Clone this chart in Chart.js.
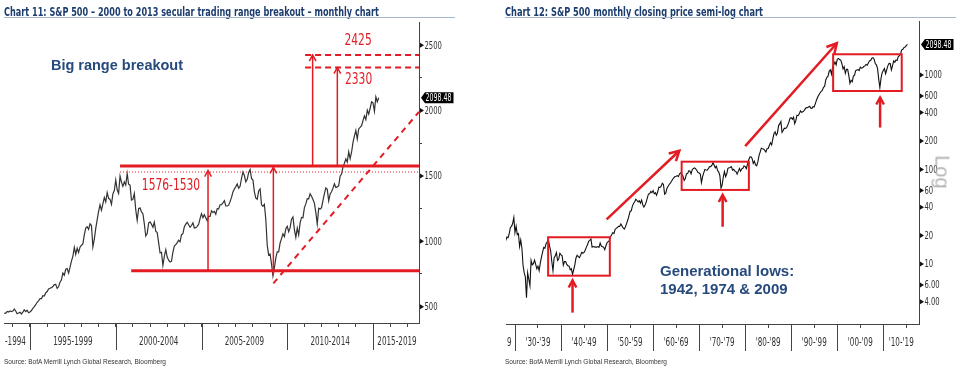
<!DOCTYPE html>
<html>
<head>
<meta charset="utf-8">
<script src="https://cdn.jsdelivr.net/npm/chart.js@4.4.0/dist/chart.umd.min.js"></script>
<style>
html, body { margin: 0; padding: 0; background: #fff; }
body { width: 960px; height: 369px; position: relative; overflow: hidden; }
.panel { position: absolute; top: 0; width: 480px; height: 369px; }
#p1 { left: 0; }
#p2 { left: 480px; }
canvas { position: absolute; left: 0; top: 0; }
.title { position: absolute; top: 6px; font-family: "Liberation Sans Narrow", "DejaVu Sans Condensed", sans-serif; font-weight: bold; font-size: 12px; line-height: 12px; color: #1c3d6e; white-space: nowrap; transform-origin: 0 0; }
.rule { position: absolute; top: 17px; height: 1px; background: #a3b6ca; }
.source { position: absolute; top: 358px; font-family: "Liberation Sans", Arial, sans-serif; font-size: 7px; line-height: 7px; color: #333; white-space: nowrap; transform-origin: 0 0; }
.log { position: absolute; left: 462px; top: 172px; font-family: "Liberation Sans", Arial, sans-serif; font-size: 20px; color: #b3b3b3; transform: translate(-50%, -50%) rotate(90deg); }
</style>
</head>
<body>
<div id="p1" class="panel">
  <canvas id="c1" width="480" height="369"></canvas>
  <div class="title" id="t1" style="left:4px">Chart 11: S&amp;P 500 – 2000 to 2013 secular trading range breakout – monthly chart</div>
  <div class="rule" style="left:4px;width:451px"></div>
  <div class="source" id="s1" style="left:4px">Source: BofA Merrill Lynch Global Research, Bloomberg</div>
</div>
<div id="p2" class="panel">
  <canvas id="c2" width="480" height="369"></canvas>
  <div class="title" id="t2" style="left:25px">Chart 12: S&amp;P 500 monthly closing price semi-log chart</div>
  <div class="rule" style="left:25px;width:451px"></div>
  <div class="source" id="s2" style="left:25px">Source: BofA Merrill Lynch Global Research, Bloomberg</div>
  <div class="log">Log</div>
</div>
<script>
// ---- Chart 11 data: S&P 500 monthly closes, Jun 1993 .. Apr 2015
const leftStart = 1993.5;
const leftValues = [
  450.5, 448.1, 463.6, 458.9, 467.8, 461.8, 466.5,
  481.6, 467.1, 445.8, 451.0, 456.5, 444.3, 458.3, 475.5, 462.7, 472.4, 453.7, 459.3,
  470.4, 487.4, 500.7, 514.7, 533.4, 544.8, 562.1, 561.9, 584.4, 581.5, 605.4, 615.9,
  636.0, 640.4, 645.5, 654.2, 669.1, 670.6, 639.9, 652.0, 687.3, 705.3, 757.0, 740.7,
  786.2, 790.8, 757.1, 801.3, 848.3, 885.1, 954.3, 899.5, 947.3, 914.6, 955.4, 970.4,
  980.3, 1049.3, 1101.8, 1111.8, 1090.8, 1133.8, 1120.7, 957.3, 1017.0, 1098.7, 1163.6, 1229.2,
  1279.6, 1238.3, 1286.4, 1335.2, 1301.8, 1372.7, 1328.7, 1320.4, 1282.7, 1362.9, 1389.0, 1469.3,
  1394.5, 1366.4, 1498.6, 1452.4, 1420.6, 1454.6, 1430.8, 1517.7, 1436.5, 1429.4, 1315.2, 1320.3,
  1366.0, 1239.9, 1160.3, 1249.5, 1255.8, 1224.4, 1211.2, 1133.6, 1040.9, 1059.8, 1139.5, 1148.1,
  1130.2, 1106.7, 1147.4, 1076.9, 1067.1, 989.8, 911.6, 916.1, 815.3, 885.8, 936.3, 879.8,
  855.7, 841.2, 848.2, 916.9, 963.6, 974.5, 990.3, 1008.0, 996.0, 1050.7, 1058.2, 1111.9,
  1131.1, 1144.9, 1126.2, 1107.3, 1120.7, 1140.8, 1101.7, 1104.2, 1114.6, 1130.2, 1173.8, 1211.9,
  1181.3, 1203.6, 1180.6, 1156.9, 1191.5, 1191.3, 1234.2, 1220.3, 1228.8, 1207.0, 1249.5, 1248.3,
  1280.1, 1280.7, 1294.8, 1310.6, 1270.1, 1270.2, 1276.7, 1303.8, 1335.9, 1377.9, 1400.6, 1418.3,
  1438.2, 1406.8, 1420.9, 1482.4, 1530.6, 1503.4, 1455.3, 1474.0, 1526.8, 1549.4, 1481.1, 1468.4,
  1378.6, 1330.6, 1322.7, 1385.6, 1400.4, 1280.0, 1267.4, 1282.8, 1166.4, 968.8, 896.2, 903.3,
  825.9, 735.1, 797.9, 872.8, 919.1, 919.3, 987.5, 1020.6, 1057.1, 1036.2, 1095.6, 1115.1,
  1073.9, 1104.5, 1169.4, 1186.7, 1089.4, 1030.7, 1101.6, 1049.3, 1141.2, 1183.3, 1180.6, 1257.6,
  1286.1, 1327.2, 1325.8, 1363.6, 1345.2, 1320.6, 1292.3, 1218.9, 1131.4, 1253.3, 1247.0, 1257.6,
  1312.4, 1365.7, 1408.5, 1397.9, 1310.3, 1362.2, 1379.3, 1406.6, 1440.7, 1412.2, 1416.2, 1426.2,
  1498.1, 1514.7, 1569.2, 1597.6, 1630.7, 1606.3, 1685.7, 1633.0, 1681.6, 1756.5, 1805.8, 1848.4,
  1782.6, 1859.5, 1872.3, 1884.0, 1923.6, 1960.2, 1930.7, 2003.4, 1972.3, 2018.1, 2067.6, 2058.9,
  1995.0, 2104.5, 2067.9, 2098.48
];
const leftYTicks = [500, 750, 1000, 1250, 1500, 1750, 2000, 2250, 2500];
const leftYLabels = [500, 1000, 1500, 2000, 2500];
const leftYears = [1994, 1995, 1996, 1997, 1998, 1999, 2000, 2001, 2002, 2003, 2004, 2005,
                   2006, 2007, 2008, 2009, 2010, 2011, 2012, 2013, 2014, 2015, 2016, 2017];
const leftSeparators = [1995, 2000, 2005, 2010, 2015];
const leftPeriodLabels = ['-1994', '1995-1999', '2000-2004', '2005-2009', '2010-2014', '2015-2019'];
const leftPeriodAt = [1994.15, 1997.5, 2002.5, 2007.5, 2012.5, 2016.4];
const leftRange = [1576, 1530, 775];      // range top, alt top (dotted), range bottom
const leftTargets = [2425, 2330];

// ---- Chart 12 data: S&P 500 quarter-end closes, Dec 1927 .. 2015
const rightStart = 1928;
const rightValues = [
  17.7,
  19.3, 19.0, 21.0, 24.4,   25.0, 27.0, 31.0, 21.5,   25.1, 20.5, 21.0, 15.3,
  18.0, 14.8, 9.7, 8.1,     7.3, 4.4, 8.1, 6.9,       5.9, 10.9, 9.8, 10.1,
  11.0, 9.9, 8.9, 9.5,      8.5, 10.2, 11.8, 13.4,    15.0, 14.7, 16.4, 17.2,
  18.1, 15.6, 13.8, 10.6,   8.5, 11.6, 12.2, 13.2,    10.9, 11.3, 13.0, 12.5,
  12.2, 9.7, 10.6, 10.6,    9.9, 9.6, 9.5, 8.7,       8.9, 7.8, 8.7, 9.8,
  11.6, 12.4, 12.0, 11.7,   12.4, 13.3, 13.0, 13.3,   14.0, 15.1, 16.0, 17.4,
  17.8, 18.4, 15.1, 15.3,   15.2, 15.1, 15.1, 15.3,   15.0, 16.7, 15.5, 15.2,
  15.1, 14.2, 15.6, 16.8,   17.3, 17.7, 19.4, 20.4,   21.5, 21.0, 23.3, 23.8,
  24.4, 25.0, 25.0, 26.6,   25.3, 24.1, 23.4, 24.8,   26.9, 29.2, 32.3, 36.0,
  36.6, 41.0, 43.7, 45.5,   48.5, 47.0, 45.4, 46.7,   44.1, 47.4, 42.4, 40.0,
  42.1, 45.2, 50.1, 55.2,   55.4, 58.5, 56.9, 59.9,   55.3, 56.9, 53.5, 58.1,
  65.1, 64.6, 66.7, 71.6,   69.6, 54.8, 56.3, 63.1,   66.6, 69.4, 71.7, 75.0,
  79.0, 81.7, 84.2, 84.8,   86.2, 84.1, 90.0, 92.4,   89.2, 84.7, 76.6, 80.3,
  90.2, 90.6, 96.7, 96.5,   90.2, 99.6, 102.7, 103.9, 101.5, 97.7, 93.1, 92.1,
  89.6, 72.7, 84.2, 92.2,   100.3, 99.0, 98.3, 102.1, 107.2, 107.1, 110.6, 118.1,
  111.5, 104.3, 108.4, 97.6, 94.0, 86.0, 63.5, 68.6,  83.4, 95.2, 83.9, 90.2,
  102.8, 104.3, 105.2, 107.5, 98.4, 100.5, 96.5, 95.1, 89.2, 95.5, 102.5, 96.1,
  101.6, 102.9, 109.3, 107.9, 102.1, 114.2, 125.5, 135.8, 136.0, 131.2, 116.2, 122.6,
  112.0, 109.6, 120.4, 140.6, 153.0, 168.1, 166.1, 164.9, 159.2, 153.2, 166.1, 167.2,
  180.7, 191.9, 182.1, 211.3, 238.9, 250.8, 231.3, 242.2, 291.7, 304.0, 321.8, 247.1,
  258.9, 273.5, 271.9, 277.7, 294.9, 318.0, 349.2, 353.4, 339.9, 358.0, 306.1, 330.2,
  375.2, 371.2, 387.9, 417.1, 403.7, 408.1, 417.8, 435.7, 451.7, 450.5, 458.9, 466.5,
  445.8, 444.3, 462.7, 459.3, 500.7, 544.8, 584.4, 615.9, 645.5, 670.6, 687.3, 740.7,
  757.1, 885.1, 947.3, 970.4, 1101.8, 1133.8, 1017.0, 1229.2, 1286.4, 1372.7, 1282.7, 1469.3,
  1498.6, 1454.6, 1436.5, 1320.3, 1160.3, 1224.4, 1040.9, 1148.1, 1147.4, 989.8, 815.3, 879.8,
  848.2, 974.5, 996.0, 1111.9, 1126.2, 1140.8, 1114.6, 1211.9, 1180.6, 1191.3, 1228.8, 1248.3,
  1294.8, 1270.2, 1335.9, 1418.3, 1420.9, 1503.4, 1526.8, 1468.4, 1322.7, 1280.0, 1166.4, 903.3,
  735.1, 919.3, 1057.1, 1115.1, 1169.4, 1030.7, 1141.2, 1257.6, 1325.8, 1320.6, 1131.4, 1257.6,
  1408.5, 1362.2, 1440.7, 1426.2, 1569.2, 1606.3, 1681.6, 1848.4, 1872.3, 1960.2, 1972.3, 2058.9,
  2098.48
];
const rightYTicks = [4, 6, 10, 20, 40, 60, 100, 200, 400, 600, 1000];
const rightMinor = [1935, 1945, 1955, 1965, 1975, 1985, 1995, 2005, 2015];
const rightSeparators = [1930, 1940, 1950, 1960, 1970, 1980, 1990, 2000, 2010];
const rightPeriodLabels = ['9', "'30-'39", "'40-'49", "'50-'59", "'60-'69", "'70-'79", "'80-'89", "'90-'99", "'00-'09", "'10-'19"];
const rightPeriodAt = [1928.75, 1935, 1945, 1955, 1965, 1975, 1985, 1995, 2005, 2013.9];
// trading range boxes: [from, to, low, high]
const rightBoxes = [[1937.2, 1950.6, 7.53, 19.2], [1966.2, 1980.8, 60.8, 121], [1999.1, 2014.0, 677, 1657]];
// generational low arrows: [year, from, to]
const rightLowArrows = [[1942.5, 3.06, 6.7], [1975.1, 24.8, 53.8], [2009.3, 278, 578]];
// breakout arrows: [year0, value0, year1, value1]
const rightTrendArrows = [[1949.9, 29.7, 1965.7, 158], [1980.0, 177, 1999.9, 2166]];

const RED = '#e31b23';
const NARROW = '"Liberation Sans Narrow", "DejaVu Sans Condensed", sans-serif';
const SANS = '"Liberation Sans", Arial, sans-serif';
const NAVY = '#274a7d';

function near(list, v) { return list.some(p => Math.abs(p - v) < 1e-6); }

// narrow text: squeeze horizontally so one digit is `digit` px wide
function narrowText(ctx, text, x, y, size, digit, color, align) {
  ctx.save();
  ctx.font = size + 'px ' + NARROW;
  const k = digit / ctx.measureText('0').width;
  ctx.fillStyle = color; ctx.textAlign = align; ctx.textBaseline = 'middle';
  ctx.translate(x, y); ctx.scale(k, 1);
  ctx.fillText(text, 0, 0);
  ctx.restore();
}

function bottomAxis(min, max, tickAt, labelAt, height) {
  const all = Array.from(new Set(tickAt.concat(labelAt))).sort((a, b) => a - b);
  return {
    type: 'linear', min: min, max: max,
    afterBuildTicks: s => { s.ticks = all.map(v => ({ value: v })); },
    afterFit: s => { s.height = height; s.paddingLeft = 0; s.paddingRight = 0; },
    border: { color: '#444', width: 1 },
    grid: {
      drawOnChartArea: false, tickLength: 4, tickWidth: 1,
      tickColor: c => (c.tick && near(tickAt, c.tick.value)) ? '#444' : 'rgba(0,0,0,0)'
    },
    ticks: { autoSkip: false, maxRotation: 0, minRotation: 0, callback: () => '' }
  };
}

function arrow(ctx, x0, y0, x1, y1, head, width) {
  ctx.save();
  ctx.strokeStyle = RED; ctx.lineWidth = width; ctx.lineCap = 'butt'; ctx.lineJoin = 'miter';
  ctx.beginPath(); ctx.moveTo(x0, y0); ctx.lineTo(x1, y1); ctx.stroke();
  const a = Math.atan2(y1 - y0, x1 - x0);
  ctx.beginPath();
  ctx.moveTo(x1 - head * Math.cos(a - 0.5), y1 - head * Math.sin(a - 0.5));
  ctx.lineTo(x1, y1);
  ctx.lineTo(x1 - head * Math.cos(a + 0.5), y1 - head * Math.sin(a + 0.5));
  ctx.stroke();
  ctx.restore();
}

// axis separators, period labels, value labels with triangles and last-value tag
function axisDecor(cfg) {
  return {
    id: 'axisDecor',
    afterDraw(chart) {
      const { ctx, chartArea: a, scales: { x, y } } = chart;
      ctx.save();
      ctx.strokeStyle = '#444'; ctx.lineWidth = 1;
      cfg.separators.forEach(v => {
        const px = Math.round(x.getPixelForValue(v)) + 0.5;
        ctx.beginPath(); ctx.moveTo(px, a.bottom); ctx.lineTo(px, a.bottom + 27); ctx.stroke();
      });
      cfg.periodAt.forEach((v, i) => {
        narrowText(ctx, cfg.periods[i], x.getPixelForValue(v), a.bottom + 19.5, 11.5, 4.6, '#333', 'center');
      });
      ctx.fillStyle = '#111';
      cfg.yLabels.forEach(v => {
        const py = y.getPixelForValue(v);
        ctx.beginPath();
        ctx.moveTo(a.right + 1, py - 2.5); ctx.lineTo(a.right + 1, py + 2.5); ctx.lineTo(a.right + 5, py);
        ctx.fill();
        narrowText(ctx, cfg.format(v), a.right + 5.5, py + 0.5, 11, 4.35, '#333', 'left');
      });
      const ty = y.getPixelForValue(cfg.last);
      ctx.fillStyle = '#000';
      ctx.beginPath();
      ctx.moveTo(a.right + 2, ty); ctx.lineTo(a.right + 6, ty - 5.5); ctx.lineTo(a.right + 34.5, ty - 5.5);
      ctx.lineTo(a.right + 34.5, ty + 5.5); ctx.lineTo(a.right + 6, ty + 5.5); ctx.closePath();
      ctx.fill();
      narrowText(ctx, cfg.last.toFixed(2), a.right + 6.5, ty + 0.5, 10.5, 4.0, '#fff', 'left');
      ctx.restore();
    }
  };
}

const leftMarks = {
  id: 'leftMarks',
  afterDatasetsDraw(chart) {
    const { ctx, chartArea: a, scales: { x, y } } = chart;
    const X = v => x.getPixelForValue(v), Y = v => y.getPixelForValue(v);
    const seg = (x0, y0, x1, y1) => { ctx.beginPath(); ctx.moveTo(x0, y0); ctx.lineTo(x1, y1); ctx.stroke(); };
    ctx.save();
    ctx.strokeStyle = RED;
    ctx.lineWidth = 3;
    seg(X(2000.25), Y(leftRange[0]), a.right, Y(leftRange[0]));
    seg(X(2000.9), Y(leftRange[2]), a.right, Y(leftRange[2]));
    ctx.lineWidth = 1; ctx.setLineDash([1, 2]);
    seg(X(2000.25), Y(leftRange[1]), a.right, Y(leftRange[1]));
    ctx.lineWidth = 2; ctx.setLineDash([6, 4]);
    leftTargets.forEach(t => seg(X(2011.04), Y(t), a.right, Y(t)));
    ctx.setLineDash([6, 5]);
    seg(X(2009.19), Y(678), X(2017.68), Y(1990));
    ctx.setLineDash([]);
    ctx.restore();
    arrow(ctx, X(2005.38), Y(leftRange[2]), X(2005.38), Y(1542), 7, 1.5);
    arrow(ctx, X(2009.19), Y(740), X(2009.19), Y(1566), 7, 1.5);
    arrow(ctx, X(2011.48), Y(leftRange[0]), X(2011.48), Y(leftTargets[0]), 7, 1.5);
    arrow(ctx, X(2012.92), Y(leftRange[0]), X(2012.92), Y(leftTargets[1]), 7, 1.5);
    narrowText(ctx, String(leftTargets[0]), X(2014.13), Y(2533), 16, 6.8, RED, 'center');
    narrowText(ctx, String(leftTargets[1]), X(2014.16), Y(2232), 16, 6.8, RED, 'center');
    narrowText(ctx, leftRange[0] + '-' + leftRange[1], X(2003.22), Y(1424), 16, 6.8, RED, 'center');
    ctx.save();
    ctx.fillStyle = NAVY; ctx.font = 'bold 14.5px ' + SANS; ctx.textAlign = 'left'; ctx.textBaseline = 'middle';
    ctx.fillText('Big range breakout', X(1996.22), Y(2339));
    ctx.restore();
  }
};

const rightMarks = {
  id: 'rightMarks',
  afterDatasetsDraw(chart) {
    const { ctx, scales: { x, y } } = chart;
    const X = v => x.getPixelForValue(v), Y = v => y.getPixelForValue(v);
    ctx.save();
    ctx.strokeStyle = RED; ctx.lineWidth = 2;
    rightBoxes.forEach(b => {
      const x0 = X(b[0]), x1 = X(b[1]), y0 = Y(b[3]), y1 = Y(b[2]);
      ctx.strokeRect(x0, y0, x1 - x0, y1 - y0);
    });
    ctx.restore();
    rightLowArrows.forEach(r => arrow(ctx, X(r[0]), Y(r[1]), X(r[0]), Y(r[2]), 8, 2.5));
    rightTrendArrows.forEach(r => arrow(ctx, X(r[0]), Y(r[1]), X(r[2]), Y(r[3]), 11, 2.5));
    ctx.save();
    ctx.fillStyle = NAVY; ctx.font = 'bold 15px ' + SANS; ctx.textAlign = 'left'; ctx.textBaseline = 'middle';
    ctx.fillText('Generational lows:', X(1961.5), Y(8.3));
    ctx.fillText('1942, 1974 & 2009', X(1961.5), Y(5.31));
    ctx.restore();
  }
};

const baseOptions = {
  responsive: false, animation: false, events: [],
  plugins: { legend: { display: false }, tooltip: { enabled: false } }
};

new Chart(document.getElementById('c1'), {
  type: 'line',
  data: {
    datasets: [{
      data: leftValues.map((v, i) => ({ x: leftStart + i / 12, y: v })),
      borderColor: '#333', borderWidth: 1.2, pointRadius: 0, tension: 0
    }]
  },
  options: Object.assign({}, baseOptions, {
    layout: { padding: { left: 4, top: 22, right: 0, bottom: 0 } },
    scales: {
      x: bottomAxis(1993.484, 2017.682, leftYears, [], 46),
      y: {
        type: 'linear', position: 'right', min: 375, max: 2678,
        afterBuildTicks: s => { s.ticks = leftYTicks.map(v => ({ value: v })); },
        afterFit: s => { s.width = 61; s.paddingTop = 0; s.paddingBottom = 0; },
        border: { color: '#444' },
        grid: {
          drawOnChartArea: false, tickLength: 3,
          tickColor: c => (c.tick && leftYLabels.includes(c.tick.value)) ? 'rgba(0,0,0,0)' : '#444'
        },
        ticks: { callback: () => '' }
      }
    }
  }),
  plugins: [axisDecor({
    separators: leftSeparators, periods: leftPeriodLabels, periodAt: leftPeriodAt,
    yLabels: leftYLabels, format: v => String(v), last: leftValues[leftValues.length - 1]
  }), leftMarks]
});

new Chart(document.getElementById('c2'), {
  type: 'line',
  data: {
    datasets: [{
      data: rightValues.map((v, i) => ({ x: rightStart + i / 4, y: v })),
      borderColor: '#111', borderWidth: 1.1, pointRadius: 0, tension: 0
    }]
  },
  options: Object.assign({}, baseOptions, {
    layout: { padding: { left: 26, top: 21, right: 0, bottom: 0 } },
    scales: {
      x: bottomAxis(1928.05, 2017.75, rightMinor, [], 45),
      y: {
        type: 'logarithmic', position: 'right', min: 2.32, max: 3727,
        afterBuildTicks: s => { s.ticks = rightYTicks.map(v => ({ value: v })); },
        afterFit: s => { s.width = 41; s.paddingTop = 0; s.paddingBottom = 0; },
        border: { color: '#444' },
        grid: { drawOnChartArea: false, tickLength: 3, tickColor: 'rgba(0,0,0,0)' },
        ticks: { callback: () => '' }
      }
    }
  }),
  plugins: [axisDecor({
    separators: rightSeparators, periods: rightPeriodLabels, periodAt: rightPeriodAt,
    yLabels: rightYTicks, format: v => v < 10 ? v.toFixed(2) : String(v),
    last: rightValues[rightValues.length - 1]
  }), rightMarks]
});

// squeeze header and source text to the widths used in the original
function fitWidth(id, w) {
  const el = document.getElementById(id);
  const r = el.getBoundingClientRect().width;
  if (r > 0) el.style.transform = 'scaleX(' + (w / r) + ')';
}
fitWidth('t1', 375);
fitWidth('t2', 258);
fitWidth('s1', 162);
fitWidth('s2', 162);
</script>
</body>
</html>
